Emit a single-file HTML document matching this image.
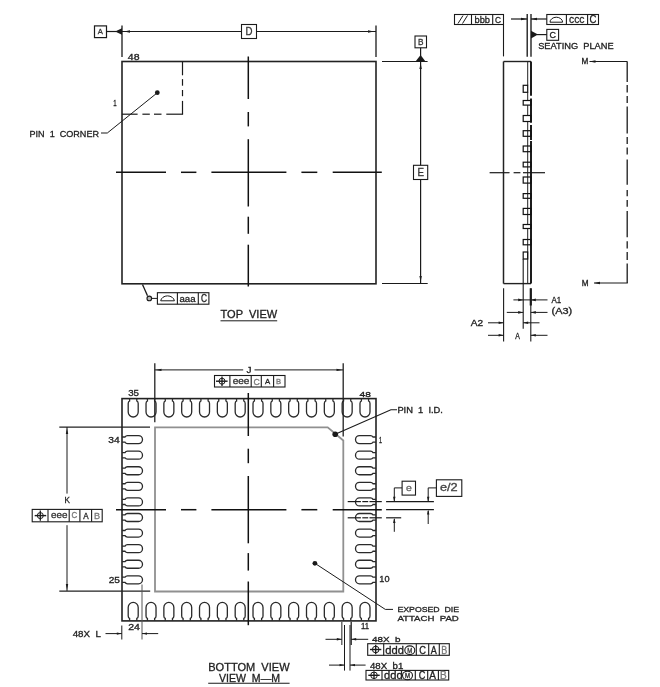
<!DOCTYPE html>
<html><head><meta charset="utf-8"><style>
html,body{margin:0;padding:0;background:#fff;width:660px;height:687px;overflow:hidden}
svg{display:block;will-change:transform}
text{font-family:"Liberation Sans",sans-serif}
</style></head><body>
<svg width="660" height="687" viewBox="0 0 660 687">
<rect width="660" height="687" fill="#fff"/>
<rect x="122" y="61.5" width="254" height="222.3" fill="none" stroke="#222" stroke-width="1.6"/>
<rect x="94.5" y="25.9" width="12.0" height="11.700000000000003" fill="none" stroke="#1a1a1a" stroke-width="1.2"/>
<text x="97.70" y="34.00" font-size="7.99" textLength="5.10" lengthAdjust="spacingAndGlyphs" fill="#333" stroke="#333" stroke-width="0.3" xml:space="preserve">A</text>
<line x1="106.5" y1="31.5" x2="116" y2="31.5" stroke="#1a1a1a" stroke-width="1.2"/>
<polygon points="115,31.5 122,28.2 122,34.8" fill="#1a1a1a"/>
<line x1="122" y1="25.5" x2="122" y2="57" stroke="#1a1a1a" stroke-width="1.3"/>
<line x1="376" y1="25.5" x2="376" y2="57" stroke="#1a1a1a" stroke-width="1.3"/>
<line x1="122" y1="31.5" x2="241.5" y2="31.5" stroke="#1a1a1a" stroke-width="1.2"/>
<line x1="256.5" y1="31.5" x2="376" y2="31.5" stroke="#1a1a1a" stroke-width="1.2"/>
<polygon points="124,31.5 130.0,30.3 130.0,32.7" fill="#1a1a1a"/>
<polygon points="374,31.5 368.0,32.7 368.0,30.3" fill="#1a1a1a"/>
<rect x="241.5" y="24.5" width="15.0" height="14.0" fill="none" stroke="#1a1a1a" stroke-width="1.1"/>
<text x="245.50" y="35.00" font-size="10.17" textLength="7.00" lengthAdjust="spacingAndGlyphs" fill="#333" stroke="#333" stroke-width="0.3" xml:space="preserve">D</text>
<line x1="248.3" y1="56.5" x2="248.3" y2="99" stroke="#111" stroke-width="1.5"/>
<line x1="248.3" y1="112" x2="248.3" y2="126.4" stroke="#111" stroke-width="1.5"/>
<line x1="248.3" y1="139.2" x2="248.3" y2="206.5" stroke="#111" stroke-width="1.5"/>
<line x1="248.3" y1="216.7" x2="248.3" y2="233.8" stroke="#111" stroke-width="1.5"/>
<line x1="248.3" y1="244.7" x2="248.3" y2="286.5" stroke="#111" stroke-width="1.5"/>
<line x1="116" y1="172.3" x2="166" y2="172.3" stroke="#111" stroke-width="1.5"/>
<line x1="181" y1="172.3" x2="196.4" y2="172.3" stroke="#111" stroke-width="1.5"/>
<line x1="211.4" y1="172.3" x2="286.4" y2="172.3" stroke="#111" stroke-width="1.5"/>
<line x1="301.4" y1="172.3" x2="317.3" y2="172.3" stroke="#111" stroke-width="1.5"/>
<line x1="332.7" y1="172.3" x2="381.8" y2="172.3" stroke="#111" stroke-width="1.5"/>
<line x1="182.5" y1="61.5" x2="182.5" y2="75.3" stroke="#1a1a1a" stroke-width="1.2"/>
<line x1="182.5" y1="79.1" x2="182.5" y2="85.7" stroke="#1a1a1a" stroke-width="1.2"/>
<line x1="182.5" y1="90" x2="182.5" y2="96.2" stroke="#1a1a1a" stroke-width="1.2"/>
<line x1="182.5" y1="100.9" x2="182.5" y2="114.2" stroke="#1a1a1a" stroke-width="1.2"/>
<line x1="122" y1="114.2" x2="137.6" y2="114.2" stroke="#1a1a1a" stroke-width="1.2"/>
<line x1="142.4" y1="114.2" x2="149.8" y2="114.2" stroke="#1a1a1a" stroke-width="1.2"/>
<line x1="154" y1="114.2" x2="161.5" y2="114.2" stroke="#1a1a1a" stroke-width="1.2"/>
<line x1="166.3" y1="114.2" x2="183.1" y2="114.2" stroke="#1a1a1a" stroke-width="1.2"/>
<circle cx="157.3" cy="92.7" r="2.4" fill="#1a1a1a" stroke="none" stroke-width="1.2"/>
<text x="127.80" y="59.92" font-size="8.47" textLength="11.70" lengthAdjust="spacingAndGlyphs" fill="#222" stroke="#222" stroke-width="0.3" xml:space="preserve">48</text>
<text x="113.20" y="105.80" font-size="9.01" textLength="3.40" lengthAdjust="spacingAndGlyphs" fill="#222" stroke="#222" stroke-width="0.3" xml:space="preserve">1</text>
<text x="29.50" y="136.61" font-size="9.46" textLength="69.50" lengthAdjust="spacingAndGlyphs" fill="#222" stroke="#222" stroke-width="0.3" xml:space="preserve">PIN  1  CORNER</text>
<polyline points="101,133 107.3,133 157,93" fill="none" stroke="#1a1a1a" stroke-width="1.0"/>
<line x1="382" y1="61.5" x2="427.6" y2="61.5" stroke="#1a1a1a" stroke-width="1.2"/>
<line x1="382" y1="283.5" x2="427.7" y2="283.5" stroke="#1a1a1a" stroke-width="1.2"/>
<rect x="415" y="36" width="11.5" height="11.799999999999997" fill="none" stroke="#1a1a1a" stroke-width="1.1"/>
<text x="418.00" y="45.00" font-size="9.01" textLength="5.50" lengthAdjust="spacingAndGlyphs" fill="#333" stroke="#333" stroke-width="0.3" xml:space="preserve">B</text>
<line x1="420.6" y1="47.8" x2="420.6" y2="56" stroke="#1a1a1a" stroke-width="1.2"/>
<polygon points="420.6,55 415.5,61.5 425.5,61.5" fill="#1a1a1a"/>
<line x1="420.6" y1="61.5" x2="420.6" y2="165.3" stroke="#1a1a1a" stroke-width="1.2"/>
<line x1="420.6" y1="179.5" x2="420.6" y2="283.5" stroke="#1a1a1a" stroke-width="1.2"/>
<polygon points="420.6,63 421.8,69.0 419.40000000000003,69.0" fill="#1a1a1a"/>
<polygon points="420.6,282 419.40000000000003,276.0 421.8,276.0" fill="#1a1a1a"/>
<rect x="413.5" y="165.3" width="14.199999999999989" height="14.199999999999989" fill="none" stroke="#1a1a1a" stroke-width="1.1"/>
<text x="417.50" y="176.00" font-size="10.17" textLength="6.50" lengthAdjust="spacingAndGlyphs" fill="#333" stroke="#333" stroke-width="0.3" xml:space="preserve">E</text>
<line x1="142.5" y1="284.5" x2="147.5" y2="295.8" stroke="#1a1a1a" stroke-width="1.3"/>
<circle cx="149.3" cy="298.4" r="2.3" fill="#bbb" stroke="#1a1a1a" stroke-width="1.1"/>
<line x1="152" y1="298.4" x2="157.4" y2="298.4" stroke="#1a1a1a" stroke-width="1.0"/>
<rect x="157.4" y="292.7" width="51.5" height="11.5" fill="none" stroke="#1a1a1a" stroke-width="1.1"/>
<line x1="177.4" y1="292.7" x2="177.4" y2="304.2" stroke="#1a1a1a" stroke-width="1.1"/>
<line x1="198.3" y1="292.7" x2="198.3" y2="304.2" stroke="#1a1a1a" stroke-width="1.1"/>
<path d="M160.7,300.8 A6.9,5.6 0 0 1 174.4,300.8 Z" fill="none" stroke="#1a1a1a" stroke-width="1.0"/>
<text x="179.50" y="301.71" font-size="8.76" textLength="15.99" lengthAdjust="spacingAndGlyphs" fill="#222" stroke="#222" stroke-width="0.3" xml:space="preserve">aaa</text>
<text x="201.00" y="301.70" font-size="10.31" textLength="6.00" lengthAdjust="spacingAndGlyphs" fill="#222" stroke="#222" stroke-width="0.3" xml:space="preserve">C</text>
<text x="220.50" y="317.59" font-size="10.88" textLength="56.70" lengthAdjust="spacingAndGlyphs" fill="#222" stroke="#222" stroke-width="0.3" xml:space="preserve">TOP  VIEW</text>
<line x1="220.5" y1="320.8" x2="277.2" y2="320.8" stroke="#1a1a1a" stroke-width="1.0"/>
<line x1="503.5" y1="61.5" x2="531" y2="61.5" stroke="#222" stroke-width="1.4"/>
<line x1="503.5" y1="283.6" x2="531" y2="283.6" stroke="#222" stroke-width="1.4"/>
<line x1="503.5" y1="61.5" x2="503.5" y2="283.6" stroke="#222" stroke-width="1.5"/>
<line x1="503.5" y1="24.5" x2="503.5" y2="56.4" stroke="#1a1a1a" stroke-width="1.1"/>
<line x1="527.2" y1="14" x2="527.2" y2="56.8" stroke="#111" stroke-width="1.3"/>
<line x1="531" y1="14" x2="531" y2="56.8" stroke="#111" stroke-width="1.3"/>
<rect x="454.5" y="14.5" width="49.0" height="10.0" fill="none" stroke="#1a1a1a" stroke-width="1.1"/>
<line x1="471.5" y1="14.5" x2="471.5" y2="24.5" stroke="#1a1a1a" stroke-width="1.1"/>
<line x1="492.7" y1="14.5" x2="492.7" y2="24.5" stroke="#1a1a1a" stroke-width="1.1"/>
<line x1="458" y1="23.5" x2="463" y2="15.5" stroke="#1a1a1a" stroke-width="1.0"/>
<line x1="462.5" y1="23.5" x2="467.5" y2="15.5" stroke="#1a1a1a" stroke-width="1.0"/>
<text x="474.50" y="22.90" font-size="9.52" textLength="15.50" lengthAdjust="spacingAndGlyphs" fill="#222" stroke="#222" stroke-width="0.3" xml:space="preserve">bbb</text>
<text x="495.00" y="22.91" font-size="9.18" textLength="6.00" lengthAdjust="spacingAndGlyphs" fill="#222" stroke="#222" stroke-width="0.3" xml:space="preserve">C</text>
<line x1="511" y1="19" x2="527" y2="19" stroke="#1a1a1a" stroke-width="1.2"/>
<polygon points="527,19 521.0,20.3 521.0,17.7" fill="#1a1a1a"/>
<line x1="531" y1="19" x2="546.8" y2="19" stroke="#1a1a1a" stroke-width="1.2"/>
<polygon points="531,19 537.0,17.7 537.0,20.3" fill="#1a1a1a"/>
<rect x="546.8" y="14.5" width="51.700000000000045" height="10.0" fill="none" stroke="#1a1a1a" stroke-width="1.1"/>
<line x1="566.4" y1="14.5" x2="566.4" y2="24.5" stroke="#1a1a1a" stroke-width="1.1"/>
<line x1="587.6" y1="14.5" x2="587.6" y2="24.5" stroke="#1a1a1a" stroke-width="1.1"/>
<path d="M550,22.2 A6.3,5 0 0 1 562.6,22.2 Z" fill="none" stroke="#1a1a1a" stroke-width="1.0"/>
<text x="569.00" y="23.08" font-size="11.68" textLength="15.50" lengthAdjust="spacingAndGlyphs" fill="#222" stroke="#222" stroke-width="0.3" xml:space="preserve">ccc</text>
<text x="589.50" y="23.10" font-size="10.31" textLength="6.90" lengthAdjust="spacingAndGlyphs" fill="#222" stroke="#222" stroke-width="0.3" xml:space="preserve">C</text>
<polygon points="538,34.6 531,30.8 531,38.4" fill="#1a1a1a"/>
<line x1="537" y1="34.6" x2="546.8" y2="34.6" stroke="#1a1a1a" stroke-width="1.2"/>
<rect x="546.8" y="29.4" width="11.800000000000068" height="10.899999999999999" fill="none" stroke="#1a1a1a" stroke-width="1.1"/>
<text x="549.50" y="38.40" font-size="9.89" textLength="6.50" lengthAdjust="spacingAndGlyphs" fill="#222" stroke="#222" stroke-width="0.3" xml:space="preserve">C</text>
<text x="538.20" y="48.51" font-size="8.62" textLength="75.40" lengthAdjust="spacingAndGlyphs" fill="#222" stroke="#222" stroke-width="0.3" xml:space="preserve">SEATING  PLANE</text>
<text x="581.50" y="64.20" font-size="8.28" textLength="6.80" lengthAdjust="spacingAndGlyphs" fill="#222" stroke="#222" stroke-width="0.3" xml:space="preserve">M</text>
<line x1="589.5" y1="61.5" x2="627.3" y2="61.5" stroke="#1a1a1a" stroke-width="1.1"/>
<polygon points="589.5,61.5 595.5,60.3 595.5,62.7" fill="#1a1a1a"/>
<line x1="627.2" y1="61.5" x2="627.2" y2="82.1" stroke="#1a1a1a" stroke-width="1.3"/>
<line x1="627.2" y1="85" x2="627.2" y2="92.6" stroke="#1a1a1a" stroke-width="1.3"/>
<line x1="627.2" y1="96" x2="627.2" y2="103" stroke="#1a1a1a" stroke-width="1.3"/>
<line x1="627.2" y1="106.5" x2="627.2" y2="133.6" stroke="#1a1a1a" stroke-width="1.3"/>
<line x1="627.2" y1="137" x2="627.2" y2="144" stroke="#1a1a1a" stroke-width="1.3"/>
<line x1="627.2" y1="147.6" x2="627.2" y2="154.6" stroke="#1a1a1a" stroke-width="1.3"/>
<line x1="627.2" y1="159.5" x2="627.2" y2="184.8" stroke="#1a1a1a" stroke-width="1.3"/>
<line x1="627.2" y1="190" x2="627.2" y2="196.2" stroke="#1a1a1a" stroke-width="1.3"/>
<line x1="627.2" y1="200" x2="627.2" y2="206.7" stroke="#1a1a1a" stroke-width="1.3"/>
<line x1="627.2" y1="211" x2="627.2" y2="237.2" stroke="#1a1a1a" stroke-width="1.3"/>
<line x1="627.2" y1="241.3" x2="627.2" y2="248.6" stroke="#1a1a1a" stroke-width="1.3"/>
<line x1="627.2" y1="252" x2="627.2" y2="260" stroke="#1a1a1a" stroke-width="1.3"/>
<line x1="627.2" y1="263.5" x2="627.2" y2="283" stroke="#1a1a1a" stroke-width="1.3"/>
<line x1="594" y1="283" x2="627.8" y2="283" stroke="#1a1a1a" stroke-width="1.1"/>
<polygon points="594,283 600.0,281.8 600.0,284.2" fill="#1a1a1a"/>
<text x="581.80" y="285.80" font-size="8.43" textLength="6.80" lengthAdjust="spacingAndGlyphs" fill="#222" stroke="#222" stroke-width="0.3" xml:space="preserve">M</text>
<line x1="489.6" y1="172.7" x2="509.5" y2="172.7" stroke="#1a1a1a" stroke-width="1.2"/>
<line x1="513.6" y1="172.7" x2="520.4" y2="172.7" stroke="#1a1a1a" stroke-width="1.2"/>
<line x1="523" y1="172.7" x2="545" y2="172.7" stroke="#1a1a1a" stroke-width="1.2"/>
<line x1="531" y1="61.5" x2="531" y2="95.7" stroke="#111" stroke-width="1.9"/>
<line x1="531" y1="98.4" x2="531" y2="122.8" stroke="#111" stroke-width="1.9"/>
<line x1="531" y1="125" x2="531" y2="140" stroke="#111" stroke-width="1.9"/>
<line x1="531" y1="141" x2="531" y2="283.6" stroke="#111" stroke-width="1.9"/>
<line x1="527.7" y1="61.5" x2="527.7" y2="85.3" stroke="#222" stroke-width="1.0"/>
<line x1="527.7" y1="92.3" x2="527.7" y2="100.5" stroke="#222" stroke-width="1.0"/>
<line x1="527.7" y1="105.1" x2="527.7" y2="115.5" stroke="#222" stroke-width="1.0"/>
<line x1="527.7" y1="121.5" x2="527.7" y2="224.5" stroke="#222" stroke-width="1.0"/>
<line x1="527.7" y1="228.5" x2="527.7" y2="283.6" stroke="#222" stroke-width="1.0"/>
<rect x="523.2" y="85.3" width="4.5" height="7.0" fill="none" stroke="#111" stroke-width="1.2"/>
<rect x="523.2" y="100.5" width="7.7999999999999545" height="4.599999999999994" fill="none" stroke="#111" stroke-width="1.2"/>
<rect x="523.2" y="115.5" width="7.7999999999999545" height="6.0" fill="none" stroke="#111" stroke-width="1.2"/>
<rect x="523.2" y="130.7" width="7.7999999999999545" height="5.600000000000023" fill="none" stroke="#111" stroke-width="1.2"/>
<rect x="523.2" y="146" width="7.7999999999999545" height="5.699999999999989" fill="none" stroke="#111" stroke-width="1.2"/>
<rect x="523.2" y="162.2" width="7.7999999999999545" height="4.700000000000017" fill="none" stroke="#111" stroke-width="1.2"/>
<rect x="523.2" y="177" width="7.7999999999999545" height="6.099999999999994" fill="none" stroke="#111" stroke-width="1.2"/>
<rect x="523.2" y="193.6" width="7.7999999999999545" height="4.700000000000017" fill="none" stroke="#111" stroke-width="1.2"/>
<rect x="523.2" y="208.4" width="7.7999999999999545" height="6.099999999999994" fill="none" stroke="#111" stroke-width="1.2"/>
<rect x="523.2" y="224.5" width="7.7999999999999545" height="4.0" fill="none" stroke="#111" stroke-width="1.2"/>
<rect x="523.2" y="239.5" width="7.7999999999999545" height="5.300000000000011" fill="none" stroke="#111" stroke-width="1.2"/>
<rect x="523.2" y="252" width="4.5" height="7" fill="none" stroke="#111" stroke-width="1.2"/>
<line x1="503.6" y1="288.3" x2="503.6" y2="341.5" stroke="#1a1a1a" stroke-width="1.1"/>
<line x1="523.2" y1="259" x2="523.2" y2="328.7" stroke="#1a1a1a" stroke-width="1.1"/>
<line x1="530.8" y1="288.3" x2="530.8" y2="341.5" stroke="#1a1a1a" stroke-width="1.1"/>
<line x1="530.8" y1="288.3" x2="530.8" y2="305.5" stroke="#1a1a1a" stroke-width="2.2"/>
<line x1="513.4" y1="299.9" x2="547.5" y2="299.9" stroke="#1a1a1a" stroke-width="1.0"/>
<polygon points="523.2,299.9 518.2,301.2 518.2,298.59999999999997" fill="#1a1a1a"/>
<polygon points="530.8,299.9 535.8,298.59999999999997 535.8,301.2" fill="#1a1a1a"/>
<line x1="506.8" y1="312.4" x2="523.2" y2="312.4" stroke="#1a1a1a" stroke-width="1.0"/>
<polygon points="523.2,312.4 518.2,313.7 518.2,311.09999999999997" fill="#1a1a1a"/>
<line x1="530.8" y1="312.4" x2="547.5" y2="312.4" stroke="#1a1a1a" stroke-width="1.0"/>
<polygon points="530.8,312.4 535.8,311.09999999999997 535.8,313.7" fill="#1a1a1a"/>
<line x1="488" y1="322.8" x2="503.6" y2="322.8" stroke="#1a1a1a" stroke-width="1.0"/>
<polygon points="503.6,322.8 498.6,324.1 498.6,321.5" fill="#1a1a1a"/>
<line x1="523.2" y1="322.8" x2="539.5" y2="322.8" stroke="#1a1a1a" stroke-width="1.0"/>
<polygon points="523.2,322.8 528.2,321.5 528.2,324.1" fill="#1a1a1a"/>
<line x1="488" y1="335.3" x2="503.6" y2="335.3" stroke="#1a1a1a" stroke-width="1.0"/>
<polygon points="503.6,335.3 498.6,336.6 498.6,334.0" fill="#1a1a1a"/>
<line x1="530.8" y1="335.3" x2="547.5" y2="335.3" stroke="#1a1a1a" stroke-width="1.0"/>
<polygon points="530.8,335.3 535.8,334.0 535.8,336.6" fill="#1a1a1a"/>
<text x="551.50" y="302.70" font-size="9.16" textLength="9.70" lengthAdjust="spacingAndGlyphs" fill="#222" stroke="#222" stroke-width="0.3" xml:space="preserve">A1</text>
<text x="551.50" y="314.12" font-size="8.47" textLength="20.60" lengthAdjust="spacingAndGlyphs" fill="#222" stroke="#222" stroke-width="0.3" xml:space="preserve">(A3)</text>
<text x="470.80" y="325.70" font-size="8.17" textLength="12.40" lengthAdjust="spacingAndGlyphs" fill="#222" stroke="#222" stroke-width="0.3" xml:space="preserve">A2</text>
<text x="515.20" y="338.70" font-size="8.28" textLength="4.60" lengthAdjust="spacingAndGlyphs" fill="#222" stroke="#222" stroke-width="0.3" xml:space="preserve">A</text>
<rect x="122" y="398.6" width="254" height="222.29999999999995" fill="none" stroke="#222" stroke-width="1.6"/>
<polygon points="155,427.3 327.7,427.3 343.3,440.5 343.3,591.5 155,591.5" fill="none" stroke="#909090" stroke-width="1.8"/>
<path d="M129.6,398.6 V401 Q128.2,401.5 128.2,403.5 V412 A5,5 0 0 0 138.2,412 V403.5 Q138.2,401.5 136.79999999999998,401 V398.6" fill="none" stroke="#2a2a2a" stroke-width="1.3"/>
<path d="M129.6,620.8 V618.4 Q128.2,617.9 128.2,615.9 V607.4 A5,5 0 0 1 138.2,607.4 V615.9 Q138.2,617.9 136.79999999999998,618.4 V620.8" fill="none" stroke="#2a2a2a" stroke-width="1.3"/>
<path d="M147.42999999999998,398.6 V401 Q146.02999999999997,401.5 146.02999999999997,403.5 V412 A5,5 0 0 0 156.02999999999997,412 V403.5 Q156.02999999999997,401.5 154.62999999999997,401 V398.6" fill="none" stroke="#2a2a2a" stroke-width="1.3"/>
<path d="M147.42999999999998,620.8 V618.4 Q146.02999999999997,617.9 146.02999999999997,615.9 V607.4 A5,5 0 0 1 156.02999999999997,607.4 V615.9 Q156.02999999999997,617.9 154.62999999999997,618.4 V620.8" fill="none" stroke="#2a2a2a" stroke-width="1.3"/>
<path d="M165.26,398.6 V401 Q163.85999999999999,401.5 163.85999999999999,403.5 V412 A5,5 0 0 0 173.85999999999999,412 V403.5 Q173.85999999999999,401.5 172.45999999999998,401 V398.6" fill="none" stroke="#2a2a2a" stroke-width="1.3"/>
<path d="M165.26,620.8 V618.4 Q163.85999999999999,617.9 163.85999999999999,615.9 V607.4 A5,5 0 0 1 173.85999999999999,607.4 V615.9 Q173.85999999999999,617.9 172.45999999999998,618.4 V620.8" fill="none" stroke="#2a2a2a" stroke-width="1.3"/>
<path d="M183.09,398.6 V401 Q181.69,401.5 181.69,403.5 V412 A5,5 0 0 0 191.69,412 V403.5 Q191.69,401.5 190.29,401 V398.6" fill="none" stroke="#2a2a2a" stroke-width="1.3"/>
<path d="M183.09,620.8 V618.4 Q181.69,617.9 181.69,615.9 V607.4 A5,5 0 0 1 191.69,607.4 V615.9 Q191.69,617.9 190.29,618.4 V620.8" fill="none" stroke="#2a2a2a" stroke-width="1.3"/>
<path d="M200.92,398.6 V401 Q199.51999999999998,401.5 199.51999999999998,403.5 V412 A5,5 0 0 0 209.51999999999998,412 V403.5 Q209.51999999999998,401.5 208.11999999999998,401 V398.6" fill="none" stroke="#2a2a2a" stroke-width="1.3"/>
<path d="M200.92,620.8 V618.4 Q199.51999999999998,617.9 199.51999999999998,615.9 V607.4 A5,5 0 0 1 209.51999999999998,607.4 V615.9 Q209.51999999999998,617.9 208.11999999999998,618.4 V620.8" fill="none" stroke="#2a2a2a" stroke-width="1.3"/>
<path d="M218.74999999999997,398.6 V401 Q217.34999999999997,401.5 217.34999999999997,403.5 V412 A5,5 0 0 0 227.34999999999997,412 V403.5 Q227.34999999999997,401.5 225.94999999999996,401 V398.6" fill="none" stroke="#2a2a2a" stroke-width="1.3"/>
<path d="M218.74999999999997,620.8 V618.4 Q217.34999999999997,617.9 217.34999999999997,615.9 V607.4 A5,5 0 0 1 227.34999999999997,607.4 V615.9 Q227.34999999999997,617.9 225.94999999999996,618.4 V620.8" fill="none" stroke="#2a2a2a" stroke-width="1.3"/>
<path d="M236.57999999999998,398.6 V401 Q235.17999999999998,401.5 235.17999999999998,403.5 V412 A5,5 0 0 0 245.17999999999998,412 V403.5 Q245.17999999999998,401.5 243.77999999999997,401 V398.6" fill="none" stroke="#2a2a2a" stroke-width="1.3"/>
<path d="M236.57999999999998,620.8 V618.4 Q235.17999999999998,617.9 235.17999999999998,615.9 V607.4 A5,5 0 0 1 245.17999999999998,607.4 V615.9 Q245.17999999999998,617.9 243.77999999999997,618.4 V620.8" fill="none" stroke="#2a2a2a" stroke-width="1.3"/>
<path d="M254.41,398.6 V401 Q253.01,401.5 253.01,403.5 V412 A5,5 0 0 0 263.01,412 V403.5 Q263.01,401.5 261.61,401 V398.6" fill="none" stroke="#2a2a2a" stroke-width="1.3"/>
<path d="M254.41,620.8 V618.4 Q253.01,617.9 253.01,615.9 V607.4 A5,5 0 0 1 263.01,607.4 V615.9 Q263.01,617.9 261.61,618.4 V620.8" fill="none" stroke="#2a2a2a" stroke-width="1.3"/>
<path d="M272.23999999999995,398.6 V401 Q270.84,401.5 270.84,403.5 V412 A5,5 0 0 0 280.84,412 V403.5 Q280.84,401.5 279.44,401 V398.6" fill="none" stroke="#2a2a2a" stroke-width="1.3"/>
<path d="M272.23999999999995,620.8 V618.4 Q270.84,617.9 270.84,615.9 V607.4 A5,5 0 0 1 280.84,607.4 V615.9 Q280.84,617.9 279.44,618.4 V620.8" fill="none" stroke="#2a2a2a" stroke-width="1.3"/>
<path d="M290.06999999999994,398.6 V401 Q288.66999999999996,401.5 288.66999999999996,403.5 V412 A5,5 0 0 0 298.66999999999996,412 V403.5 Q298.66999999999996,401.5 297.27,401 V398.6" fill="none" stroke="#2a2a2a" stroke-width="1.3"/>
<path d="M290.06999999999994,620.8 V618.4 Q288.66999999999996,617.9 288.66999999999996,615.9 V607.4 A5,5 0 0 1 298.66999999999996,607.4 V615.9 Q298.66999999999996,617.9 297.27,618.4 V620.8" fill="none" stroke="#2a2a2a" stroke-width="1.3"/>
<path d="M307.9,398.6 V401 Q306.5,401.5 306.5,403.5 V412 A5,5 0 0 0 316.5,412 V403.5 Q316.5,401.5 315.1,401 V398.6" fill="none" stroke="#2a2a2a" stroke-width="1.3"/>
<path d="M307.9,620.8 V618.4 Q306.5,617.9 306.5,615.9 V607.4 A5,5 0 0 1 316.5,607.4 V615.9 Q316.5,617.9 315.1,618.4 V620.8" fill="none" stroke="#2a2a2a" stroke-width="1.3"/>
<path d="M325.72999999999996,398.6 V401 Q324.33,401.5 324.33,403.5 V412 A5,5 0 0 0 334.33,412 V403.5 Q334.33,401.5 332.93,401 V398.6" fill="none" stroke="#2a2a2a" stroke-width="1.3"/>
<path d="M325.72999999999996,620.8 V618.4 Q324.33,617.9 324.33,615.9 V607.4 A5,5 0 0 1 334.33,607.4 V615.9 Q334.33,617.9 332.93,618.4 V620.8" fill="none" stroke="#2a2a2a" stroke-width="1.3"/>
<path d="M343.55999999999995,398.6 V401 Q342.15999999999997,401.5 342.15999999999997,403.5 V412 A5,5 0 0 0 352.15999999999997,412 V403.5 Q352.15999999999997,401.5 350.76,401 V398.6" fill="none" stroke="#2a2a2a" stroke-width="1.3"/>
<path d="M343.55999999999995,620.8 V618.4 Q342.15999999999997,617.9 342.15999999999997,615.9 V607.4 A5,5 0 0 1 352.15999999999997,607.4 V615.9 Q352.15999999999997,617.9 350.76,618.4 V620.8" fill="none" stroke="#2a2a2a" stroke-width="1.3"/>
<path d="M361.38999999999993,398.6 V401 Q359.98999999999995,401.5 359.98999999999995,403.5 V412 A5,5 0 0 0 369.98999999999995,412 V403.5 Q369.98999999999995,401.5 368.59,401 V398.6" fill="none" stroke="#2a2a2a" stroke-width="1.3"/>
<path d="M361.38999999999993,620.8 V618.4 Q359.98999999999995,617.9 359.98999999999995,615.9 V607.4 A5,5 0 0 1 369.98999999999995,607.4 V615.9 Q369.98999999999995,617.9 368.59,618.4 V620.8" fill="none" stroke="#2a2a2a" stroke-width="1.3"/>
<path d="M122,437.0 H125 Q125.8,435.6 127.5,435.6 H138.5 A4,4 0 0 1 138.5,443.6 H127.5 Q125.8,443.6 125,442.20000000000005 H122" fill="none" stroke="#2a2a2a" stroke-width="1.3"/>
<path d="M376,437.0 H373 Q372.2,435.6 370.5,435.6 H359.5 A4,4 0 0 0 359.5,443.6 H370.5 Q372.2,443.6 373,442.20000000000005 H376" fill="none" stroke="#2a2a2a" stroke-width="1.3"/>
<path d="M122,452.58 H125 Q125.8,451.18 127.5,451.18 H138.5 A4,4 0 0 1 138.5,459.18 H127.5 Q125.8,459.18 125,457.78000000000003 H122" fill="none" stroke="#2a2a2a" stroke-width="1.3"/>
<path d="M376,452.58 H373 Q372.2,451.18 370.5,451.18 H359.5 A4,4 0 0 0 359.5,459.18 H370.5 Q372.2,459.18 373,457.78000000000003 H376" fill="none" stroke="#2a2a2a" stroke-width="1.3"/>
<path d="M122,468.16 H125 Q125.8,466.76000000000005 127.5,466.76000000000005 H138.5 A4,4 0 0 1 138.5,474.76000000000005 H127.5 Q125.8,474.76000000000005 125,473.36000000000007 H122" fill="none" stroke="#2a2a2a" stroke-width="1.3"/>
<path d="M376,468.16 H373 Q372.2,466.76000000000005 370.5,466.76000000000005 H359.5 A4,4 0 0 0 359.5,474.76000000000005 H370.5 Q372.2,474.76000000000005 373,473.36000000000007 H376" fill="none" stroke="#2a2a2a" stroke-width="1.3"/>
<path d="M122,483.74 H125 Q125.8,482.34000000000003 127.5,482.34000000000003 H138.5 A4,4 0 0 1 138.5,490.34000000000003 H127.5 Q125.8,490.34000000000003 125,488.94000000000005 H122" fill="none" stroke="#2a2a2a" stroke-width="1.3"/>
<path d="M376,483.74 H373 Q372.2,482.34000000000003 370.5,482.34000000000003 H359.5 A4,4 0 0 0 359.5,490.34000000000003 H370.5 Q372.2,490.34000000000003 373,488.94000000000005 H376" fill="none" stroke="#2a2a2a" stroke-width="1.3"/>
<path d="M122,499.32 H125 Q125.8,497.92 127.5,497.92 H138.5 A4,4 0 0 1 138.5,505.92 H127.5 Q125.8,505.92 125,504.52000000000004 H122" fill="none" stroke="#2a2a2a" stroke-width="1.3"/>
<path d="M376,499.32 H373 Q372.2,497.92 370.5,497.92 H359.5 A4,4 0 0 0 359.5,505.92 H370.5 Q372.2,505.92 373,504.52000000000004 H376" fill="none" stroke="#2a2a2a" stroke-width="1.3"/>
<path d="M122,514.9 H125 Q125.8,513.5 127.5,513.5 H138.5 A4,4 0 0 1 138.5,521.5 H127.5 Q125.8,521.5 125,520.1 H122" fill="none" stroke="#2a2a2a" stroke-width="1.3"/>
<path d="M376,514.9 H373 Q372.2,513.5 370.5,513.5 H359.5 A4,4 0 0 0 359.5,521.5 H370.5 Q372.2,521.5 373,520.1 H376" fill="none" stroke="#2a2a2a" stroke-width="1.3"/>
<path d="M122,530.48 H125 Q125.8,529.08 127.5,529.08 H138.5 A4,4 0 0 1 138.5,537.08 H127.5 Q125.8,537.08 125,535.6800000000001 H122" fill="none" stroke="#2a2a2a" stroke-width="1.3"/>
<path d="M376,530.48 H373 Q372.2,529.08 370.5,529.08 H359.5 A4,4 0 0 0 359.5,537.08 H370.5 Q372.2,537.08 373,535.6800000000001 H376" fill="none" stroke="#2a2a2a" stroke-width="1.3"/>
<path d="M122,546.0600000000001 H125 Q125.8,544.6600000000001 127.5,544.6600000000001 H138.5 A4,4 0 0 1 138.5,552.6600000000001 H127.5 Q125.8,552.6600000000001 125,551.2600000000001 H122" fill="none" stroke="#2a2a2a" stroke-width="1.3"/>
<path d="M376,546.0600000000001 H373 Q372.2,544.6600000000001 370.5,544.6600000000001 H359.5 A4,4 0 0 0 359.5,552.6600000000001 H370.5 Q372.2,552.6600000000001 373,551.2600000000001 H376" fill="none" stroke="#2a2a2a" stroke-width="1.3"/>
<path d="M122,561.64 H125 Q125.8,560.24 127.5,560.24 H138.5 A4,4 0 0 1 138.5,568.24 H127.5 Q125.8,568.24 125,566.84 H122" fill="none" stroke="#2a2a2a" stroke-width="1.3"/>
<path d="M376,561.64 H373 Q372.2,560.24 370.5,560.24 H359.5 A4,4 0 0 0 359.5,568.24 H370.5 Q372.2,568.24 373,566.84 H376" fill="none" stroke="#2a2a2a" stroke-width="1.3"/>
<path d="M122,577.22 H125 Q125.8,575.82 127.5,575.82 H138.5 A4,4 0 0 1 138.5,583.82 H127.5 Q125.8,583.82 125,582.4200000000001 H122" fill="none" stroke="#2a2a2a" stroke-width="1.3"/>
<path d="M376,577.22 H373 Q372.2,575.82 370.5,575.82 H359.5 A4,4 0 0 0 359.5,583.82 H370.5 Q372.2,583.82 373,582.4200000000001 H376" fill="none" stroke="#2a2a2a" stroke-width="1.3"/>
<line x1="248.3" y1="393" x2="248.3" y2="436" stroke="#111" stroke-width="1.5"/>
<line x1="248.3" y1="448.7" x2="248.3" y2="463.2" stroke="#111" stroke-width="1.5"/>
<line x1="248.3" y1="476" x2="248.3" y2="543.3" stroke="#111" stroke-width="1.5"/>
<line x1="248.3" y1="553.1" x2="248.3" y2="570.6" stroke="#111" stroke-width="1.5"/>
<line x1="248.3" y1="581.5" x2="248.3" y2="625.2" stroke="#111" stroke-width="1.5"/>
<line x1="116" y1="509.7" x2="166" y2="509.7" stroke="#111" stroke-width="1.5"/>
<line x1="181" y1="509.7" x2="196.4" y2="509.7" stroke="#111" stroke-width="1.5"/>
<line x1="211.4" y1="509.7" x2="286.4" y2="509.7" stroke="#111" stroke-width="1.5"/>
<line x1="301.4" y1="509.7" x2="317.3" y2="509.7" stroke="#111" stroke-width="1.5"/>
<line x1="332.7" y1="509.7" x2="381.8" y2="509.7" stroke="#111" stroke-width="1.5"/>
<line x1="154.8" y1="363.2" x2="154.8" y2="422.3" stroke="#222" stroke-width="1.3"/>
<line x1="343.2" y1="363.2" x2="343.2" y2="436.4" stroke="#222" stroke-width="1.3"/>
<line x1="154.8" y1="369.9" x2="243.2" y2="369.9" stroke="#1a1a1a" stroke-width="1.0"/>
<line x1="254.5" y1="369.9" x2="343.1" y2="369.9" stroke="#1a1a1a" stroke-width="1.0"/>
<polygon points="155.5,369.9 161.5,368.7 161.5,371.09999999999997" fill="#1a1a1a"/>
<polygon points="342.5,369.9 336.5,371.09999999999997 336.5,368.7" fill="#1a1a1a"/>
<text x="246.50" y="372.91" font-size="8.60" textLength="5.00" lengthAdjust="spacingAndGlyphs" fill="#222" stroke="#222" stroke-width="0.3" xml:space="preserve">J</text>
<rect x="214.5" y="375.5" width="70.5" height="11.5" fill="none" stroke="#1a1a1a" stroke-width="1.1"/>
<line x1="229.9" y1="375.5" x2="229.9" y2="387" stroke="#1a1a1a" stroke-width="1.1"/>
<line x1="251.2" y1="375.5" x2="251.2" y2="387" stroke="#1a1a1a" stroke-width="1.1"/>
<line x1="261.3" y1="375.5" x2="261.3" y2="387" stroke="#1a1a1a" stroke-width="1.1"/>
<line x1="273.6" y1="375.5" x2="273.6" y2="387" stroke="#1a1a1a" stroke-width="1.1"/>
<circle cx="222" cy="381.2" r="3.0" fill="none" stroke="#1a1a1a" stroke-width="1.0"/>
<line x1="216" y1="381.2" x2="227.6" y2="381.2" stroke="#1a1a1a" stroke-width="1.4"/>
<line x1="222" y1="376.5" x2="222" y2="386" stroke="#1a1a1a" stroke-width="1.3"/>
<text x="232.70" y="384.02" font-size="8.39" textLength="16.70" lengthAdjust="spacingAndGlyphs" fill="#333" stroke="#333" stroke-width="0.3" xml:space="preserve">eee</text>
<text x="253.50" y="384.60" font-size="9.75" textLength="6.30" lengthAdjust="spacingAndGlyphs" fill="#777" stroke="#777" stroke-width="0.3" xml:space="preserve">C</text>
<text x="265.00" y="384.40" font-size="7.99" textLength="5.20" lengthAdjust="spacingAndGlyphs" fill="#222" stroke="#222" stroke-width="0.3" xml:space="preserve">A</text>
<text x="276.00" y="384.40" font-size="7.99" textLength="5.10" lengthAdjust="spacingAndGlyphs" fill="#777" stroke="#777" stroke-width="0.3" xml:space="preserve">B</text>
<line x1="59.3" y1="427.1" x2="150" y2="427.1" stroke="#222" stroke-width="1.3"/>
<line x1="59.3" y1="591.1" x2="150.2" y2="591.1" stroke="#222" stroke-width="1.3"/>
<line x1="67" y1="427" x2="67" y2="493.6" stroke="#1a1a1a" stroke-width="1.0"/>
<line x1="67" y1="525.2" x2="67" y2="591" stroke="#1a1a1a" stroke-width="1.0"/>
<polygon points="67,428 68.2,434.0 65.8,434.0" fill="#1a1a1a"/>
<polygon points="67,590 65.8,584.0 68.2,584.0" fill="#1a1a1a"/>
<text x="64.40" y="503.30" font-size="8.43" textLength="5.40" lengthAdjust="spacingAndGlyphs" fill="#222" stroke="#222" stroke-width="0.3" xml:space="preserve">K</text>
<rect x="32.2" y="509.4" width="70.0" height="12.399999999999977" fill="none" stroke="#1a1a1a" stroke-width="1.1"/>
<line x1="48" y1="509.4" x2="48" y2="521.8" stroke="#1a1a1a" stroke-width="1.1"/>
<line x1="69.2" y1="509.4" x2="69.2" y2="521.8" stroke="#1a1a1a" stroke-width="1.1"/>
<line x1="79.9" y1="509.4" x2="79.9" y2="521.8" stroke="#1a1a1a" stroke-width="1.1"/>
<line x1="91.6" y1="509.4" x2="91.6" y2="521.8" stroke="#1a1a1a" stroke-width="1.1"/>
<circle cx="40.3" cy="515.6" r="3.0" fill="none" stroke="#1a1a1a" stroke-width="1.0"/>
<line x1="34.7" y1="515.6" x2="46.2" y2="515.6" stroke="#1a1a1a" stroke-width="1.4"/>
<line x1="40.3" y1="510.4" x2="40.3" y2="520.8" stroke="#1a1a1a" stroke-width="1.3"/>
<text x="51.00" y="518.41" font-size="8.94" textLength="16.40" lengthAdjust="spacingAndGlyphs" fill="#333" stroke="#333" stroke-width="0.3" xml:space="preserve">eee</text>
<text x="71.40" y="518.41" font-size="9.18" textLength="5.70" lengthAdjust="spacingAndGlyphs" fill="#777" stroke="#777" stroke-width="0.3" xml:space="preserve">C</text>
<text x="83.20" y="518.50" font-size="8.87" textLength="5.40" lengthAdjust="spacingAndGlyphs" fill="#222" stroke="#222" stroke-width="0.3" xml:space="preserve">A</text>
<text x="94.00" y="518.50" font-size="8.87" textLength="6.10" lengthAdjust="spacingAndGlyphs" fill="#777" stroke="#777" stroke-width="0.3" xml:space="preserve">B</text>
<text x="128.20" y="396.42" font-size="8.47" textLength="10.80" lengthAdjust="spacingAndGlyphs" fill="#222" stroke="#222" stroke-width="0.3" xml:space="preserve">35</text>
<text x="359.60" y="396.72" font-size="7.63" textLength="11.30" lengthAdjust="spacingAndGlyphs" fill="#222" stroke="#222" stroke-width="0.3" xml:space="preserve">48</text>
<text x="108.30" y="442.51" font-size="8.62" textLength="11.40" lengthAdjust="spacingAndGlyphs" fill="#222" stroke="#222" stroke-width="0.3" xml:space="preserve">34</text>
<text x="108.70" y="582.62" font-size="8.19" textLength="11.30" lengthAdjust="spacingAndGlyphs" fill="#222" stroke="#222" stroke-width="0.3" xml:space="preserve">25</text>
<text x="379.00" y="442.90" font-size="8.14" textLength="3.00" lengthAdjust="spacingAndGlyphs" fill="#222" stroke="#222" stroke-width="0.3" xml:space="preserve">1</text>
<text x="379.30" y="582.22" font-size="8.33" textLength="10.20" lengthAdjust="spacingAndGlyphs" fill="#222" stroke="#222" stroke-width="0.3" xml:space="preserve">10</text>
<text x="128.20" y="630.00" font-size="8.31" textLength="11.80" lengthAdjust="spacingAndGlyphs" fill="#222" stroke="#222" stroke-width="0.3" xml:space="preserve">24</text>
<text x="361.00" y="629.20" font-size="8.14" textLength="8.00" lengthAdjust="spacingAndGlyphs" fill="#222" stroke="#222" stroke-width="0.3" xml:space="preserve">11</text>
<circle cx="335.2" cy="434.3" r="2.8" fill="#1a1a1a" stroke="none" stroke-width="1.2"/>
<polyline points="335.2,434.3 390.9,409.8 397,409.8" fill="none" stroke="#1a1a1a" stroke-width="1.1"/>
<text x="397.40" y="413.20" font-size="8.43" textLength="45.50" lengthAdjust="spacingAndGlyphs" fill="#222" stroke="#222" stroke-width="0.3" xml:space="preserve">PIN  1  I.D.</text>
<circle cx="314.9" cy="563.3" r="2.4" fill="#1a1a1a" stroke="none" stroke-width="1.2"/>
<polyline points="314.9,563.3 385.3,609.4 393,609.4" fill="none" stroke="#1a1a1a" stroke-width="1.0"/>
<text x="397.40" y="611.92" font-size="7.91" textLength="61.70" lengthAdjust="spacingAndGlyphs" fill="#222" stroke="#222" stroke-width="0.3" xml:space="preserve">EXPOSED  DIE</text>
<text x="397.40" y="621.02" font-size="7.91" textLength="61.40" lengthAdjust="spacingAndGlyphs" fill="#222" stroke="#222" stroke-width="0.3" xml:space="preserve">ATTACH  PAD</text>
<line x1="347.7" y1="501.6" x2="360.9" y2="501.6" stroke="#1a1a1a" stroke-width="1.2"/>
<line x1="362.3" y1="501.6" x2="368.2" y2="501.6" stroke="#1a1a1a" stroke-width="1.2"/>
<line x1="369.5" y1="501.6" x2="381.8" y2="501.6" stroke="#1a1a1a" stroke-width="1.2"/>
<line x1="386.1" y1="501.6" x2="433.9" y2="501.6" stroke="#1a1a1a" stroke-width="1.2"/>
<line x1="347.7" y1="517.8" x2="360.9" y2="517.8" stroke="#1a1a1a" stroke-width="1.2"/>
<line x1="362.3" y1="517.8" x2="368.2" y2="517.8" stroke="#1a1a1a" stroke-width="1.2"/>
<line x1="369.5" y1="517.8" x2="381.8" y2="517.8" stroke="#1a1a1a" stroke-width="1.2"/>
<line x1="386.1" y1="517.8" x2="401.2" y2="517.8" stroke="#1a1a1a" stroke-width="1.2"/>
<line x1="386.1" y1="509.7" x2="433.9" y2="509.7" stroke="#1a1a1a" stroke-width="1.3"/>
<rect x="402.1" y="481.2" width="13.399999999999977" height="13.900000000000034" fill="none" stroke="#1a1a1a" stroke-width="1.1"/>
<text x="406.00" y="491.11" font-size="8.76" textLength="5.80" lengthAdjust="spacingAndGlyphs" fill="#666" stroke="#666" stroke-width="0.3" xml:space="preserve">e</text>
<polyline points="402.1,487.9 394.3,487.9 394.3,501" fill="none" stroke="#1a1a1a" stroke-width="1.0"/>
<polygon points="394.3,501.7 393.1,496.7 395.5,496.7" fill="#1a1a1a"/>
<line x1="394.3" y1="531.8" x2="394.3" y2="519" stroke="#1a1a1a" stroke-width="1.0"/>
<polygon points="394.3,517.9 395.5,522.9 393.1,522.9" fill="#1a1a1a"/>
<rect x="436.4" y="479.8" width="25.400000000000034" height="16.599999999999966" fill="none" stroke="#1a1a1a" stroke-width="1.1"/>
<text x="440.00" y="490.90" font-size="10.07" textLength="17.70" lengthAdjust="spacingAndGlyphs" fill="#444" stroke="#444" stroke-width="0.3" xml:space="preserve">e/2</text>
<polyline points="436.4,487.9 428.2,487.9 428.2,501" fill="none" stroke="#1a1a1a" stroke-width="1.0"/>
<polygon points="428.2,501.7 427.0,496.7 429.4,496.7" fill="#1a1a1a"/>
<line x1="428.2" y1="524" x2="428.2" y2="511" stroke="#1a1a1a" stroke-width="1.0"/>
<polygon points="428.2,509.5 429.4,514.5 427.0,514.5" fill="#1a1a1a"/>
<line x1="121.8" y1="625.5" x2="121.8" y2="639.5" stroke="#1a1a1a" stroke-width="1.0"/>
<line x1="142" y1="584.5" x2="142" y2="639.5" stroke="#555" stroke-width="1.0"/>
<line x1="105.5" y1="633.6" x2="121.8" y2="633.6" stroke="#1a1a1a" stroke-width="1.0"/>
<polygon points="121.8,633.6 116.8,634.8000000000001 116.8,632.4" fill="#1a1a1a"/>
<line x1="142" y1="633.6" x2="158.2" y2="633.6" stroke="#1a1a1a" stroke-width="1.0"/>
<polygon points="142,633.6 147.0,632.4 147.0,634.8000000000001" fill="#1a1a1a"/>
<text x="72.70" y="637.21" font-size="9.04" textLength="28.20" lengthAdjust="spacingAndGlyphs" fill="#222" stroke="#222" stroke-width="0.3" xml:space="preserve">48X  L</text>
<line x1="341.8" y1="621.8" x2="341.8" y2="644.9" stroke="#555" stroke-width="1.3"/>
<line x1="351.2" y1="621.8" x2="351.2" y2="644.9" stroke="#222" stroke-width="1.3"/>
<line x1="344.5" y1="625" x2="344.5" y2="670.6" stroke="#1a1a1a" stroke-width="1.0"/>
<line x1="350" y1="625" x2="350" y2="670.6" stroke="#1a1a1a" stroke-width="1.0"/>
<line x1="325.5" y1="639.3" x2="341.8" y2="639.3" stroke="#1a1a1a" stroke-width="1.0"/>
<polygon points="341.8,639.3 336.8,640.5 336.8,638.0999999999999" fill="#1a1a1a"/>
<line x1="351.2" y1="639.3" x2="368.2" y2="639.3" stroke="#1a1a1a" stroke-width="1.0"/>
<polygon points="351.2,639.3 356.2,638.0999999999999 356.2,640.5" fill="#1a1a1a"/>
<line x1="329" y1="665.1" x2="344.5" y2="665.1" stroke="#1a1a1a" stroke-width="1.0"/>
<polygon points="344.5,665.1 339.5,666.3000000000001 339.5,663.9" fill="#1a1a1a"/>
<line x1="350" y1="665.1" x2="365.6" y2="665.1" stroke="#1a1a1a" stroke-width="1.0"/>
<polygon points="350,665.1 355.0,663.9 355.0,666.3000000000001" fill="#1a1a1a"/>
<text x="372.10" y="642.03" font-size="7.48" textLength="28.50" lengthAdjust="spacingAndGlyphs" fill="#222" stroke="#222" stroke-width="0.3" xml:space="preserve">48X  b</text>
<text x="370.00" y="668.62" font-size="8.30" textLength="33.30" lengthAdjust="spacingAndGlyphs" fill="#222" stroke="#222" stroke-width="0.3" xml:space="preserve">48X  b1</text>
<rect x="367.7" y="643.7" width="81.60000000000002" height="11.599999999999909" fill="none" stroke="#1a1a1a" stroke-width="1.1"/>
<line x1="383.7" y1="643.7" x2="383.7" y2="655.3" stroke="#1a1a1a" stroke-width="1.1"/>
<line x1="416.3" y1="643.7" x2="416.3" y2="655.3" stroke="#1a1a1a" stroke-width="1.1"/>
<line x1="428.7" y1="643.7" x2="428.7" y2="655.3" stroke="#1a1a1a" stroke-width="1.1"/>
<line x1="439.3" y1="643.7" x2="439.3" y2="655.3" stroke="#1a1a1a" stroke-width="1.1"/>
<circle cx="375.7" cy="649.5" r="3.3" fill="none" stroke="#1a1a1a" stroke-width="1.0"/>
<line x1="370" y1="649.5" x2="381.3" y2="649.5" stroke="#1a1a1a" stroke-width="1.4"/>
<line x1="375.7" y1="644.7" x2="375.7" y2="654.3" stroke="#1a1a1a" stroke-width="1.3"/>
<text x="385.30" y="653.89" font-size="10.88" textLength="18.71" lengthAdjust="spacingAndGlyphs" fill="#222" stroke="#222" stroke-width="0.3" xml:space="preserve">ddd</text>
<ellipse cx="409.8" cy="650.2" rx="5" ry="4.3" fill="none" stroke="#1a1a1a" stroke-width="1.1"/>
<text x="407.30" y="652.60" font-size="6.98" textLength="5.00" lengthAdjust="spacingAndGlyphs" fill="#333" stroke="#333" stroke-width="0.3" xml:space="preserve">M</text>
<text x="419.30" y="653.89" font-size="10.59" textLength="6.70" lengthAdjust="spacingAndGlyphs" fill="#222" stroke="#222" stroke-width="0.3" xml:space="preserve">C</text>
<text x="430.70" y="654.00" font-size="10.17" textLength="6.00" lengthAdjust="spacingAndGlyphs" fill="#222" stroke="#222" stroke-width="0.3" xml:space="preserve">A</text>
<text x="441.30" y="654.00" font-size="10.17" textLength="6.00" lengthAdjust="spacingAndGlyphs" fill="#777" stroke="#777" stroke-width="0.3" xml:space="preserve">B</text>
<rect x="366" y="670.4" width="82.69999999999999" height="9.600000000000023" fill="none" stroke="#1a1a1a" stroke-width="1.1"/>
<line x1="382" y1="670.4" x2="382" y2="680" stroke="#1a1a1a" stroke-width="1.1"/>
<line x1="415.3" y1="670.4" x2="415.3" y2="680" stroke="#1a1a1a" stroke-width="1.1"/>
<line x1="427.7" y1="670.4" x2="427.7" y2="680" stroke="#1a1a1a" stroke-width="1.1"/>
<line x1="438.4" y1="670.4" x2="438.4" y2="680" stroke="#1a1a1a" stroke-width="1.1"/>
<circle cx="374" cy="675.3" r="3.3" fill="none" stroke="#1a1a1a" stroke-width="1.0"/>
<line x1="368.3" y1="675.3" x2="379.7" y2="675.3" stroke="#1a1a1a" stroke-width="1.4"/>
<line x1="374" y1="671.4" x2="374" y2="679" stroke="#1a1a1a" stroke-width="1.3"/>
<text x="384.00" y="679.19" font-size="10.88" textLength="18.71" lengthAdjust="spacingAndGlyphs" fill="#222" stroke="#222" stroke-width="0.3" xml:space="preserve">ddd</text>
<ellipse cx="407.5" cy="675.5" rx="5" ry="4.2" fill="none" stroke="#1a1a1a" stroke-width="1.1"/>
<text x="405.00" y="678.00" font-size="6.98" textLength="5.00" lengthAdjust="spacingAndGlyphs" fill="#222" stroke="#222" stroke-width="0.3" xml:space="preserve">M</text>
<text x="418.70" y="679.19" font-size="10.59" textLength="6.60" lengthAdjust="spacingAndGlyphs" fill="#222" stroke="#222" stroke-width="0.3" xml:space="preserve">C</text>
<text x="429.30" y="679.30" font-size="10.17" textLength="6.70" lengthAdjust="spacingAndGlyphs" fill="#222" stroke="#222" stroke-width="0.3" xml:space="preserve">A</text>
<text x="440.00" y="679.30" font-size="10.17" textLength="6.70" lengthAdjust="spacingAndGlyphs" fill="#777" stroke="#777" stroke-width="0.3" xml:space="preserve">B</text>
<text x="208.20" y="670.78" font-size="11.58" textLength="81.40" lengthAdjust="spacingAndGlyphs" fill="#222" stroke="#222" stroke-width="0.3" xml:space="preserve">BOTTOM  VIEW</text>
<text x="219.00" y="681.80" font-size="10.61" textLength="61.00" lengthAdjust="spacingAndGlyphs" fill="#222" stroke="#222" stroke-width="0.3" xml:space="preserve">VIEW  M—M</text>
<line x1="208.2" y1="683.3" x2="289.6" y2="683.3" stroke="#1a1a1a" stroke-width="1.1"/>
</svg></body></html>
